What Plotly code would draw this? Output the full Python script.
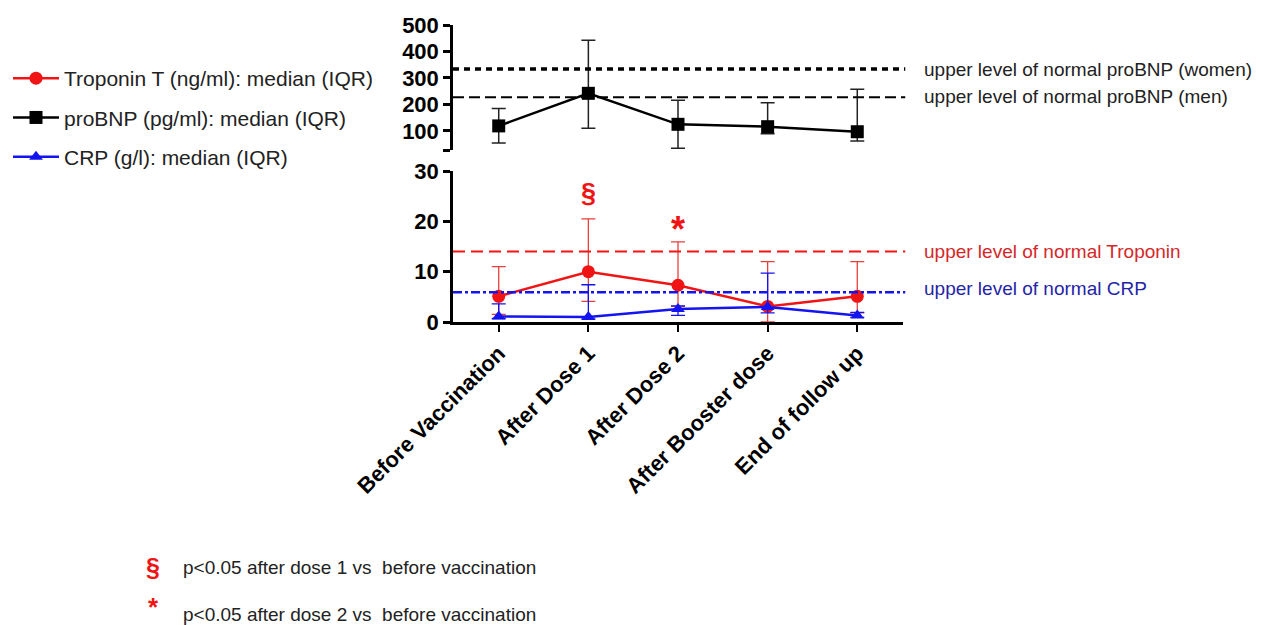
import plotly.graph_objects as go

categories = ["Before Vaccination", "After Dose 1", "After Dose 2", "After Booster dose", "End of follow up"]

probnp_median = [119, 242, 125, 116, 97]
probnp_q1 = [54, 110, 35, 89, 62]
probnp_q3 = [185, 442, 216, 206, 257]

tnt_median = [5.1, 10.0, 7.3, 3.1, 5.1]
tnt_q1 = [1.5, 4.1, 3.1, 0.0, 1.8]
tnt_q3 = [11.0, 20.5, 15.9, 12.0, 12.0]

crp_median = [1.1, 1.0, 2.6, 3.0, 1.3]
crp_q1 = [0.7, 0.6, 1.3, 1.8, 0.9]
crp_q3 = [3.6, 7.4, 3.2, 9.7, 1.9]

probnp_uln_women = 334
probnp_uln_men = 227
tnt_uln = 14
crp_uln = 5.9

top_ticks = [28, 100, 200, 300, 400, 500]
top_ticktext = ["", "100", "200", "300", "400", "500"]
bottom_ticks = [0, 10, 20, 30]

RED = "#f01414"
RED_TXT = "#d42828"
BLUE = "#1414f0"
BLUE_TXT = "#2424a8"
FONT = "Arial, Liberation Sans, sans-serif"

xi = list(range(len(categories)))

def err(med, q1, q3):
    return dict(type="data", symmetric=False,
                array=[b - a for a, b in zip(med, q3)],
                arrayminus=[a - b for a, b in zip(med, q1)])

fig = go.Figure()

e = err(tnt_median, tnt_q1, tnt_q3)
e.update(color="#e8403c", thickness=1.3, width=7)
fig.add_trace(go.Scatter(x=xi, y=tnt_median, xaxis="x", yaxis="y", mode="lines+markers",
                         name="Troponin T (ng/ml): median (IQR)", legendgroup="a",
                         line=dict(color=RED, width=2.5),
                         marker=dict(symbol="circle", size=13, color=RED),
                         error_y=e))

e = err(probnp_median, probnp_q1, probnp_q3)
e.update(color="#222222", thickness=1.5, width=7)
fig.add_trace(go.Scatter(x=xi, y=probnp_median, xaxis="x", yaxis="y2", mode="lines+markers",
                         name="proBNP (pg/ml): median (IQR)", legendgroup="b",
                         line=dict(color="black", width=2.5),
                         marker=dict(symbol="square", size=13, color="black"),
                         error_y=e))

e = err(crp_median, crp_q1, crp_q3)
e.update(color=BLUE, thickness=1.3, width=7)
fig.add_trace(go.Scatter(x=xi, y=crp_median, xaxis="x", yaxis="y", mode="lines+markers",
                         name="CRP (g/l): median (IQR)", legendgroup="c",
                         line=dict(color=BLUE, width=2.5),
                         marker=dict(symbol="triangle-up", size=12, color=BLUE),
                         error_y=e))

# reference lines
fig.add_shape(type="line", xref="paper", yref="y2", x0=0, x1=1.005,
              y0=probnp_uln_women, y1=probnp_uln_women,
              line=dict(color="black", width=3.5, dash="6px,5px"))
fig.add_shape(type="line", xref="paper", yref="y2", x0=0, x1=1.005,
              y0=probnp_uln_men, y1=probnp_uln_men,
              line=dict(color="black", width=2, dash="11px,5px"))
fig.add_shape(type="line", xref="paper", yref="y", x0=0, x1=1.005,
              y0=tnt_uln, y1=tnt_uln,
              line=dict(color=RED, width=2, dash="12px,6px"))
fig.add_shape(type="line", xref="paper", yref="y", x0=0, x1=1.005,
              y0=crp_uln, y1=crp_uln,
              line=dict(color=BLUE, width=2.5, dash="dashdot"))

ann_x = (922 - 453) / 450
def right_label(text, yref, y, color):
    fig.add_annotation(text=text, xref="paper", yref=yref, x=ann_x, y=y,
                       xanchor="left", yanchor="middle", showarrow=False,
                       font=dict(family=FONT, size=19, color=color))

right_label("upper level of normal proBNP (women)", "y2", probnp_uln_women - 2, "#222222")
right_label("upper level of normal proBNP (men)", "y2", probnp_uln_men + 2, "#222222")
right_label("upper level of normal Troponin", "y", tnt_uln, RED_TXT)
right_label("upper level of normal CRP", "y", crp_uln + 0.8, BLUE_TXT)

# significance marks
fig.add_annotation(text="§", xref="x", yref="y", x=1, y=25.6, showarrow=False,
                   font=dict(family=FONT, size=27, color=RED, weight="bold"))
fig.add_annotation(text="*", xref="x", yref="y", x=2, y=18.3, showarrow=False,
                   font=dict(family=FONT, size=36, color=RED, weight="bold"))

# footnotes (positions in page pixels, converted to paper coordinates)
def py(p):
    return (322 - p) / 297

def px(p):
    return (p - 453) / 450

fig.add_annotation(text="§", xref="paper", yref="paper", x=px(153), y=py(567),
                   xanchor="center", yanchor="middle", showarrow=False,
                   font=dict(family=FONT, size=25, color=RED, weight="bold"))
fig.add_annotation(text="p<0.05 after dose 1 vs  before vaccination", xref="paper", yref="paper",
                   x=px(181), y=py(567), xanchor="left", yanchor="middle", showarrow=False,
                   font=dict(family=FONT, size=19, color="#222222"))
fig.add_annotation(text="*", xref="paper", yref="paper", x=px(153), y=py(607),
                   xanchor="center", yanchor="middle", showarrow=False,
                   font=dict(family=FONT, size=26, color=RED, weight="bold"))
fig.add_annotation(text="p<0.05 after dose 2 vs  before vaccination", xref="paper", yref="paper",
                   x=px(181), y=py(614), xanchor="left", yanchor="middle", showarrow=False,
                   font=dict(family=FONT, size=19, color="#222222"))

fig.update_layout(
    width=1261, height=625,
    paper_bgcolor="white", plot_bgcolor="white",
    margin=dict(l=445, r=366, t=17, b=311, autoexpand=False),
    font=dict(family=FONT, color="black"),
    showlegend=True,
    legend=dict(x=px(8), y=py(58), xanchor="left", yanchor="top",
                traceorder="grouped", tracegroupgap=9, itemwidth=46,
                font=dict(family=FONT, size=21, color="#222222"),
                bgcolor="rgba(0,0,0,0)"),
    xaxis=dict(anchor="y", range=[-0.51, 4.51], tickmode="array", tickvals=xi,
               ticktext=categories, tickangle=-45, automargin=False,
               tickfont=dict(family=FONT, size=22, color="black", weight="bold"),
               showline=True, linecolor="black", linewidth=2.5,
               ticks="outside", ticklen=7, tickwidth=2, tickcolor="black",
               showgrid=False, zeroline=False),
    yaxis=dict(domain=[0, 151 / 297], range=[0, 30], tickvals=bottom_ticks,
               automargin=False,
               tickfont=dict(family=FONT, size=22, color="black", weight="bold"),
               showline=True, linecolor="black", linewidth=2.5,
               ticks="outside", ticklen=7, tickwidth=2.5, tickcolor="black",
               showgrid=False, zeroline=False),
    yaxis2=dict(domain=[172 / 297, 1], range=[28, 500], anchor="x",
                tickvals=top_ticks, ticktext=top_ticktext, automargin=False,
                tickfont=dict(family=FONT, size=22, color="black", weight="bold"),
                showline=True, linecolor="black", linewidth=2.5,
                ticks="outside", ticklen=7, tickwidth=2.5, tickcolor="black",
                showgrid=False, zeroline=False),
)

fig.write_html("out.html")
